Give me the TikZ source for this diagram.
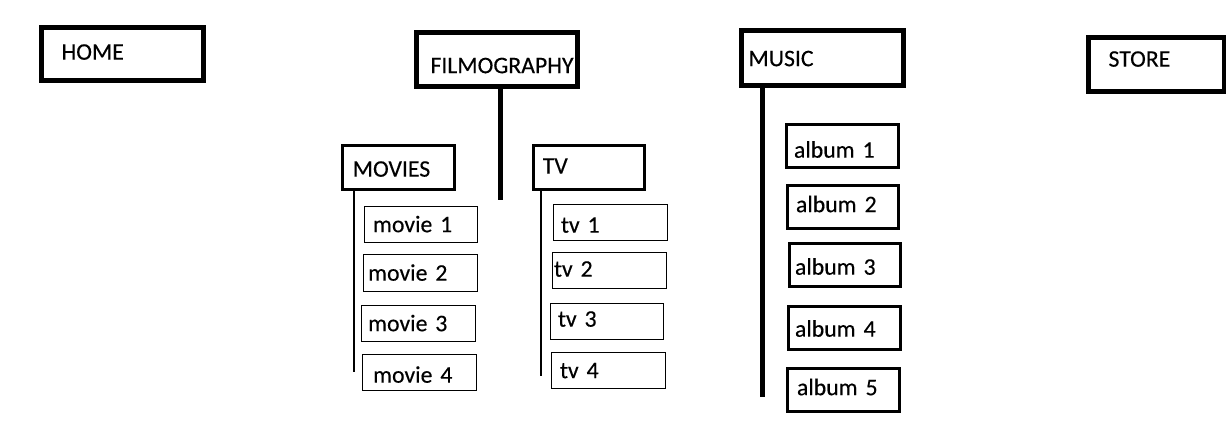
\documentclass[tikz,border=0pt]{standalone}
\usepackage{fontspec}
\setmainfont{Carlito}[WordSpace=0.7, FakeBold=0.3]
\newlength{\pxu}
\setlength{\pxu}{0.75pt}
\newcommand\bx[9]{\node[#2, minimum width=#5\pxu, minimum height=#6\pxu, text width=#5\pxu] (#1) at (#3,#4) {\hspace*{#7\pxu}\raisebox{-#8\pxu}{#9}};}
\tikzset{
  basebox/.style={draw, rectangle, inner xsep=0pt, inner ysep=0pt, align=left,
    text height=11.5pt, text depth=0pt, font=\fontsize{17.8pt}{21pt}\selectfont},
  thickbox/.style={basebox, line width=3.75pt},
  midbox/.style={basebox, line width=2.6pt},
  albumbox/.style={basebox, line width=2.3pt},
  thinbox/.style={basebox, line width=0.9pt},
  thickline/.style={line width=3.75pt},
  thinline/.style={line width=1.1pt}
}
\begin{document}
\begin{tikzpicture}[x=0.75pt,y=-0.75pt]
\useasboundingbox (0,0) rectangle (1226,427);
% top level
\bx{home}{thickbox}{122.5}{54}{162}{53}{20}{-2}{HOME}
\bx{fil}{thickbox}{497}{59.5}{161}{54}{14}{6}{FILMOGRAPHY}
\bx{music}{thickbox}{822.5}{58}{162}{55}{7}{0.5}{MUSIC}
\bx{store}{thickbox}{1156.25}{64.5}{135.5}{54}{20}{-5.5}{STORE}
% filmography children
\bx{movies}{midbox}{398.5}{167.5}{111.5}{43.5}{10}{1.5}{MOVIES}
\bx{tv}{midbox}{589}{167.5}{110.5}{43.5}{9}{-1.5}{TV}
% movies
\bx{m1}{thinbox}{421}{224.5}{113}{36}{8.5}{0}{movie 1}
\bx{m2}{thinbox}{420.5}{273}{114}{37}{4.6}{0}{movie 2}
\bx{m3}{thinbox}{418.5}{323.5}{114}{36}{6.6}{0}{movie 3}
\bx{m4}{thinbox}{419.5}{372.5}{114}{36}{10.6}{2.5}{movie 4}
% tv
\bx{t1}{thinbox}{610.5}{222.5}{114}{36}{7.5}{2.5}{tv 1}
\bx{t2}{thinbox}{609.5}{270.5}{114}{36}{1.5}{-1.5}{tv 2}
\bx{t3}{thinbox}{607}{321.5}{113}{36}{7.5}{-2.5}{tv 3}
\bx{t4}{thinbox}{608.5}{370.5}{114}{36}{8.5}{0}{tv 4}
% albums
\bx{a1}{albumbox}{842.5}{146}{112}{43}{7.5}{4}{album 1}
\bx{a2}{albumbox}{843}{207}{111}{43}{8.5}{-2.5}{album 2}
\bx{a3}{albumbox}{845}{265}{111}{43}{5.5}{2}{album 3}
\bx{a4}{albumbox}{844.5}{328}{112}{43}{6.5}{1}{album 4}
\bx{a5}{albumbox}{843.5}{390}{112}{43}{9.5}{-2.5}{album 5}
% connectors
\coordinate (filend) at (500,200);
\coordinate (movend) at (354,372);
\coordinate (tvend) at (541,376);
\coordinate (musend) at (762,397);
\draw[thickline] (fil.south -| filend) -- (filend);
\draw[thickline] (music.south -| musend) -- (musend);
\draw[thinline] (movies.south -| movend) -- (movend);
\draw[thinline] (tv.south -| tvend) -- (tvend);
\end{tikzpicture}
\end{document}
